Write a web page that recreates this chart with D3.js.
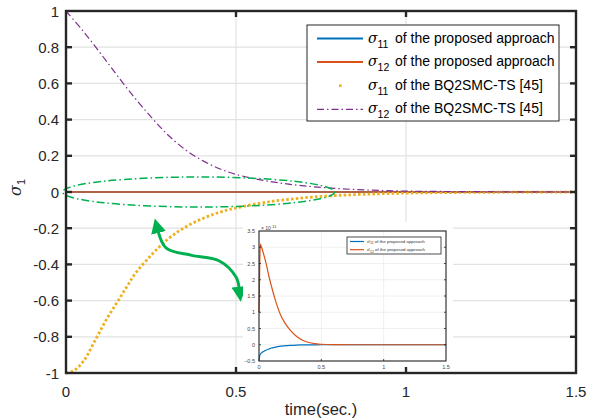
<!DOCTYPE html>
<html><head><meta charset="utf-8">
<script src="https://cdn.jsdelivr.net/npm/d3@7"></script>
<style>body{margin:0;background:#fff}svg{display:block}text{font-family:"Liberation Sans",Arial,Helvetica,sans-serif}</style>
</head><body><svg id="c" width="593" height="420"></svg>
<script>
// ---------- data ----------
const xTicks = [0, 0.5, 1, 1.5];
const yTicks = [-1, -0.8, -0.6, -0.4, -0.2, 0, 0.2, 0.4, 0.6, 0.8, 1];
const yTickLabels = ["-1","-0.8","-0.6","-0.4","-0.2","0","0.2","0.4","0.6","0.8","1"];

const tProposed = [0, 0.25, 0.5, 0.75, 1, 1.25, 1.5];
const s11Proposed = [0, 0, 0, 0, 0, 0, 0];
const s12Proposed = [0, 0, 0, 0, 0, 0, 0];

const tBQ = [0, 0.02, 0.04, 0.06, 0.08, 0.1, 0.12, 0.14, 0.16, 0.18, 0.2, 0.25, 0.3, 0.35, 0.4, 0.45, 0.5, 0.6, 0.7, 0.8, 0.9, 1.0, 1.1, 1.2, 1.3, 1.4, 1.5];
const s11BQ = [-1, -0.99, -0.96, -0.91, -0.84, -0.77, -0.70, -0.64, -0.58, -0.52, -0.46, -0.35, -0.26, -0.195, -0.148, -0.113, -0.088, -0.053, -0.032, -0.019, -0.011, -0.006, -0.0035, -0.002, -0.001, -0.0005, 0];

const tBQ12 = [0, 0.05, 0.1, 0.15, 0.2, 0.25, 0.3, 0.35, 0.4, 0.45, 0.5, 0.6, 0.7, 0.8, 0.9, 1.0, 1.1, 1.2, 1.3, 1.4, 1.5];
const s12BQ = [1, 0.89, 0.77, 0.645, 0.525, 0.415, 0.315, 0.235, 0.175, 0.13, 0.097, 0.058, 0.034, 0.019, 0.01, 0.005, 0.003, 0.002, 0.001, 0.0005, 0];

// inset (x 1e-11)
const insetXTicks = [0, 0.5, 1, 1.5];
const insetYTicks = [-0.5, 0, 0.5, 1, 1.5, 2, 2.5, 3, 3.5];
const tInset = [0, 0.005, 0.01, 0.02, 0.04, 0.06, 0.08, 0.1, 0.125, 0.15, 0.175, 0.2, 0.25, 0.3, 0.35, 0.4, 0.45, 0.5, 0.6, 0.8, 1.0, 1.5];
const s11Inset = [-0.5, -0.35, -0.3, -0.25, -0.2, -0.16, -0.13, -0.1, -0.08, -0.06, -0.045, -0.035, -0.02, -0.01, -0.006, -0.003, -0.001, 0, 0, 0, 0, 0];
const s12Inset = [1.0, 2.2, 3.1, 3.0, 2.75, 2.45, 2.1, 1.8, 1.45, 1.15, 0.9, 0.72, 0.45, 0.26, 0.14, 0.07, 0.035, 0.015, 0.005, 0, 0, 0];

const legendLabels = ["of the proposed approach", "of the proposed approach", "of the BQ2SMC-TS [45]", "of the BQ2SMC-TS [45]"];
const legendSubs = ["11", "12", "11", "12"];

// ---------- drawing ----------
const svg = d3.select("#c");
const C = {blue:"#0072BD", orange:"#D95319", yellow:"#EDB120", purple:"#7E2F8E", green:"#00B050", axis:"#262626", grid:"#e2e2e2"};
const L = 66, R = 576, T = 11, B = 373;
const x = d3.scaleLinear().domain([0, 1.5]).range([L, R]);
const y = d3.scaleLinear().domain([-1, 1]).range([B, T]);

// grid
const g = svg.append("g");
g.selectAll(".gx").data(xTicks.slice(1, -1)).join("line")
  .attr("x1", d => x(d)).attr("x2", d => x(d)).attr("y1", T).attr("y2", B)
  .attr("stroke", C.grid).attr("stroke-width", 1.2);
g.selectAll(".gy").data(yTicks.slice(1, -1)).join("line")
  .attr("y1", d => y(d)).attr("y2", d => y(d)).attr("x1", L).attr("x2", R)
  .attr("stroke", C.grid).attr("stroke-width", 1.2);

const line = (xs, ys, sx, sy, curve) => d3.line().x(i => sx(xs[i])).y(i => sy(ys[i])).curve(curve || d3.curveMonotoneX)(d3.range(xs.length));

svg.append("path").attr("d", line(tProposed, s11Proposed, x, y)).attr("fill", "none").attr("stroke", C.blue).attr("stroke-width", 1.5);
svg.append("path").attr("d", line(tProposed, s12Proposed, x, y)).attr("fill", "none").attr("stroke", C.orange).attr("stroke-width", 1.5);
svg.append("path").attr("d", line(tBQ, s11BQ, x, y, d3.curveCatmullRom)).attr("fill", "none").attr("stroke", C.yellow).attr("stroke-width", 2.8).attr("stroke-dasharray", "2.6 2.2");
svg.append("path").attr("d", line(tBQ12, s12BQ, x, y, d3.curveCatmullRom)).attr("fill", "none").attr("stroke", C.purple).attr("stroke-width", 1.2).attr("stroke-dasharray", "7 3 1.5 3");

// green ellipse annotation
svg.append("ellipse").attr("cx", x(0.39)).attr("cy", y(0)).attr("rx", x(0.4) - x(0)).attr("ry", y(0) - y(0.083))
  .attr("fill", "none").attr("stroke", C.green).attr("stroke-width", 1.5).attr("stroke-dasharray", "8 3 1.5 3");

// green curved double arrow
const defs = svg.append("defs");
defs.append("marker").attr("id", "ah").attr("viewBox", "0 0 10 10").attr("refX", 2).attr("refY", 5)
  .attr("markerWidth", 5).attr("markerHeight", 5).attr("orient", "auto-start-reverse").attr("markerUnits", "strokeWidth")
  .append("path").attr("d", "M0,0 L10,5 L0,10 z").attr("fill", C.green);
const arrowPts = [[x(0.27), y(-0.21)], [x(0.295), y(-0.31)], [x(0.37), y(-0.35)], [x(0.45), y(-0.38)], [x(0.5), y(-0.47)], [x(0.51), y(-0.54)]];
svg.append("path").attr("d", d3.line().curve(d3.curveCatmullRom)(arrowPts))
  .attr("fill", "none").attr("stroke", C.green).attr("stroke-width", 3)
  .attr("marker-start", "url(#ah)").attr("marker-end", "url(#ah)");

// ---------- inset ----------
svg.append("rect").attr("x", 243).attr("y", 222).attr("width", 210).attr("height", 150).attr("fill", "#fff");
const iL = 259, iR = 446, iT = 231, iB = 361;
const xi = d3.scaleLinear().domain([0, 1.5]).range([iL, iR]);
const yi = d3.scaleLinear().domain([-0.5, 3.5]).range([iB, iT]);
const gi = svg.append("g");
gi.selectAll(".a").data(insetXTicks.slice(1, -1)).join("line")
  .attr("x1", d => xi(d)).attr("x2", d => xi(d)).attr("y1", iT).attr("y2", iB).attr("stroke", "#ececec").attr("stroke-width", 0.8);
gi.selectAll(".b").data(insetYTicks.slice(1, -1)).join("line")
  .attr("y1", d => yi(d)).attr("y2", d => yi(d)).attr("x1", iL).attr("x2", iR).attr("stroke", "#ececec").attr("stroke-width", 0.8);
gi.append("path").attr("d", line(tInset, s11Inset, xi, yi)).attr("fill", "none").attr("stroke", C.blue).attr("stroke-width", 1.2);
gi.append("path").attr("d", line(tInset, s12Inset, xi, yi)).attr("fill", "none").attr("stroke", C.orange).attr("stroke-width", 1.2);
gi.append("rect").attr("x", iL).attr("y", iT).attr("width", iR - iL).attr("height", iB - iT).attr("fill", "none").attr("stroke", "#222").attr("stroke-width", 1.1);
// inset ticks
gi.selectAll(".tx").data(insetXTicks).join("text").attr("x", d => xi(d)).attr("y", iB + 7.5).attr("text-anchor", "middle")
  .attr("font-size", 5.5).attr("fill", "#444").text(d => d3.format("")(d));
gi.selectAll(".ty").data(insetYTicks).join("text").attr("x", iL - 4).attr("y", d => yi(d) + 2).attr("text-anchor", "end")
  .attr("font-size", 5.5).attr("fill", "#444").text(d => d3.format("")(d));
gi.selectAll(".tkx").data(insetXTicks.slice(1, -1)).join("line").attr("x1", d => xi(d)).attr("x2", d => xi(d)).attr("y1", iB).attr("y2", iB - 2).attr("stroke", "#222").attr("stroke-width", 0.8);
gi.selectAll(".tky").data(insetYTicks.slice(1, -1)).join("line").attr("y1", d => yi(d)).attr("y2", d => yi(d)).attr("x1", iL).attr("x2", iL + 2).attr("stroke", "#222").attr("stroke-width", 0.8);
gi.selectAll(".tky2").data(insetYTicks.slice(1, -1)).join("line").attr("y1", d => yi(d)).attr("y2", d => yi(d)).attr("x1", iR).attr("x2", iR - 2).attr("stroke", "#222").attr("stroke-width", 0.8);
const ex = gi.append("text").attr("x", iL + 2).attr("y", iT - 1.5).attr("font-size", 5).attr("fill", "#444");
ex.append("tspan").text("\u00d7 10");
ex.append("tspan").attr("dy", -2).attr("font-size", 4).text("-11");
// inset legend
gi.append("rect").attr("x", 347).attr("y", 237).attr("width", 94).attr("height", 17).attr("fill", "#fff").attr("stroke", "#222").attr("stroke-width", 0.8);
[C.blue, C.orange].forEach((c, i) => {
  const yy = 241.5 + i * 8.2;
  gi.append("line").attr("x1", 350).attr("x2", 364).attr("y1", yy).attr("y2", yy).attr("stroke", c).attr("stroke-width", 1.2);
  const t = gi.append("text").attr("x", 367).attr("y", yy + 1.6).attr("font-size", 4.4).attr("fill", "#333");
  t.append("tspan").attr("font-family", "DejaVu Serif").attr("font-style", "italic").text("\u03c3");
  t.append("tspan").attr("dy", 1.3).attr("font-size", 3.4).text(legendSubs[i]);
  t.append("tspan").attr("dy", -1.3).text(" " + legendLabels[i]);
});

// ---------- main frame, ticks ----------
svg.append("rect").attr("x", L).attr("y", T).attr("width", R - L).attr("height", B - T).attr("fill", "none").attr("stroke", C.axis).attr("stroke-width", 2.4);
const tk = svg.append("g").attr("stroke", C.axis).attr("stroke-width", 2.4);
yTicks.slice(1, -1).forEach(d => {
  tk.append("line").attr("x1", L).attr("x2", L + 6).attr("y1", y(d)).attr("y2", y(d));
  tk.append("line").attr("x1", R).attr("x2", R - 6).attr("y1", y(d)).attr("y2", y(d));
});
xTicks.slice(1, -1).forEach(d => {
  tk.append("line").attr("x1", x(d)).attr("x2", x(d)).attr("y1", B).attr("y2", B - 6);
  tk.append("line").attr("x1", x(d)).attr("x2", x(d)).attr("y1", T).attr("y2", T + 6);
});
svg.selectAll(".xl").data(xTicks).join("text").attr("x", d => x(d)).attr("y", 397).attr("text-anchor", "middle")
  .attr("font-size", 15).attr("fill", C.axis).text(d => d3.format("")(d));
svg.selectAll(".yl").data(yTicks).join("text").attr("x", 59).attr("y", d => y(d) + 5.5).attr("text-anchor", "end")
  .attr("font-size", 15).attr("fill", C.axis).text((d, i) => yTickLabels[i]);
svg.append("text").attr("x", x(0.75)).attr("y", 415).attr("text-anchor", "middle").attr("font-size", 16.5).attr("fill", C.axis).text("time(sec.)");
const yl = svg.append("text").attr("transform", "translate(21,196) rotate(-90)").attr("font-size", 16).attr("fill", C.axis);
yl.append("tspan").attr("font-family", "DejaVu Serif").attr("font-style", "italic").text("\u03c3");
yl.append("tspan").attr("dy", 4).attr("font-size", 11).text("1");

// ---------- main legend ----------
const lg = svg.append("g");
lg.append("rect").attr("x", 307).attr("y", 25).attr("width", 252).attr("height", 96).attr("fill", "#fff").attr("stroke", C.axis).attr("stroke-width", 1);
const lgStyles = [
  {c: C.blue, w: 2, dash: null},
  {c: C.orange, w: 2, dash: null},
  {c: C.yellow, w: 0, dash: null, dot: true},
  {c: C.purple, w: 1.2, dash: "7 3 1.5 3"}
];
lgStyles.forEach((s, i) => {
  const yy = 38.5 + i * 23.6;
  if (s.dot) {
    lg.append("rect").attr("x", 339).attr("y", yy - 1.3).attr("width", 2.6).attr("height", 2.6).attr("fill", s.c);
  } else {
    lg.append("line").attr("x1", 317).attr("x2", 363).attr("y1", yy).attr("y2", yy).attr("stroke", s.c).attr("stroke-width", s.w).attr("stroke-dasharray", s.dash);
  }
  const t = lg.append("text").attr("x", 368).attr("y", yy + 4).attr("font-size", 14).attr("fill", "#000");
  t.append("tspan").attr("font-family", "DejaVu Serif").attr("font-style", "italic").text("\u03c3");
  t.append("tspan").attr("dy", 5).attr("font-size", 10.5).text(legendSubs[i]);
  t.append("tspan").attr("dy", -5).attr("x", 395).text(legendLabels[i]);
});
</script></body></html>
